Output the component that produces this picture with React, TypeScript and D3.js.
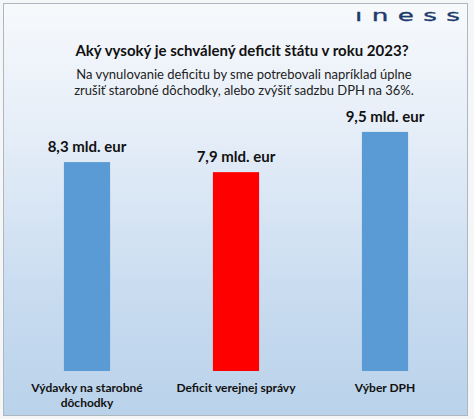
import React from "react";
import * as d3 from "d3";

const categories: string[][] = [
  ["Výdavky na starobné", "dôchodky"],
  ["Deficit verejnej správy"],
  ["Výber DPH"],
];
const values: number[] = [8.3, 7.9, 9.5];
const valueLabels: string[] = ["8,3 mld. eur", "7,9 mld. eur", "9,5 mld. eur"];
const barColors: string[] = ["#5b9bd5", "#ff0000", "#5b9bd5"];
const title = "Aký vysoký je schválený deficit štátu v roku 2023?";
const subtitle: string[] = [
  "Na vynulovanie deficitu by sme potrebovali napríklad úplne",
  "zrušiť starobné dôchodky, alebo zvýšiť sadzbu DPH na 36%.",
];

const W = 474;
const H = 419;
const FONT = "Lato, 'Open Sans', sans-serif";

export default function App() {
  const x = d3
    .scaleBand<number>()
    .domain(values.map((_, i) => i))
    .range([12.5, 459.5])
    .paddingInner(0.69)
    .paddingOuter(0.345);
  const y = d3.scaleLinear().domain([0, 10]).range([371, 119.3]);

  return (
    <svg
      width={W}
      height={H}
      style={{ position: "absolute", left: 0, top: 0, display: "block" }}
    >
      <defs>
        <linearGradient id="bg" x1="0" y1="0" x2="0" y2="1">
          <stop offset="0%" stopColor="#f7f9fc" />
          <stop offset="30%" stopColor="#e6eef8" />
          <stop offset="70%" stopColor="#c9dcf0" />
          <stop offset="100%" stopColor="#b9d2ea" />
        </linearGradient>
      </defs>
      <rect x={0} y={0} width={W} height={H} fill="#f4f6f8" />
      <rect
        x={3.5}
        y={3.5}
        width={464}
        height={412}
        fill="url(#bg)"
        stroke="#aeb6be"
        strokeWidth={1}
      />
      <text
        transform="translate(355,20.5) scale(1.75,1.1)"
        fontFamily="'DejaVu Sans', sans-serif"
        fontWeight="normal"
        fontSize={15}
        fill="#1b3a6b"
        stroke="#1b3a6b"
        strokeWidth={0.3}
        textLength={60}
        lengthAdjust="spacing"
      >
        ıness
      </text>
      <text
        x={242}
        y={56}
        textAnchor="middle"
        fontFamily={FONT}
        fontWeight="bold"
        fontSize={15}
        fill="#111"
      >
        {title}
      </text>
      {subtitle.map((s, i) => (
        <text
          key={i}
          x={244}
          y={79 + i * 15.5}
          textAnchor="middle"
          fontFamily={FONT}
          fontSize={13}
          fill="#222"
        >
          {s}
        </text>
      ))}
      {values.map((v, i) => (
        <g key={i}>
          <rect
            x={x(i)!}
            y={y(v)}
            width={x.bandwidth()}
            height={y(0) - y(v)}
            fill={barColors[i]}
          />
          <text
            x={x(i)! + x.bandwidth() / 2}
            y={y(v) - 10}
            textAnchor="middle"
            fontFamily={FONT}
            fontWeight="bold"
            fontSize={15}
            fill="#111"
          >
            {valueLabels[i]}
          </text>
          {categories[i].map((line, j) => (
            <text
              key={j}
              x={x(i)! + x.bandwidth() / 2}
              y={392 + j * 14.5}
              textAnchor="middle"
              fontFamily={FONT}
              fontWeight="bold"
              fontSize={12}
              fill="#111"
            >
              {line}
            </text>
          ))}
        </g>
      ))}
    </svg>
  );
}
